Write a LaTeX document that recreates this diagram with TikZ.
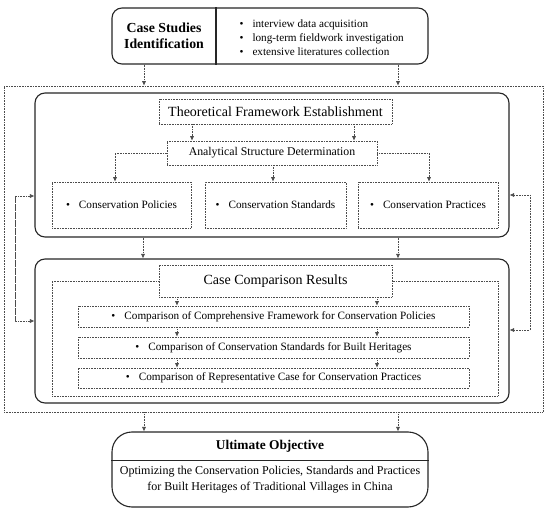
\documentclass[tikz,border=0pt]{standalone}
\usepackage{fontspec}
\setmainfont{Liberation Serif}
\usetikzlibrary{arrows.meta,calc}
\begin{document}
\begin{tikzpicture}[x=1pt,y=-1pt,
  dot/.style={draw=black!70, densely dotted, line width=0.6pt},
  dbox/.style={dot, fill=white, rectangle, inner sep=0pt},
  rbox/.style={draw=black!85, line width=1.1pt, rounded corners=10pt, inner sep=0pt, fill=white},
  arr/.style={dot, -{Latex[length=4.5pt,width=4pt]}},
  fbig/.style={font=\fontsize{14}{16}\selectfont},
  fsmall/.style={font=\fontsize{11.2}{14}\selectfont},
]
\useasboundingbox (0,0) rectangle (550,511);

% top box
\node[rbox, minimum width=316pt, minimum height=56pt] (top) at (270,36) {};
\coordinate (dv) at (216,0);
\draw[draw=black!85, line width=1.1pt] (top.north -| dv) -- (top.south -| dv);
\node[font=\bfseries\fontsize{13.8}{16}\selectfont, align=center] (csi) at (164,36) {Case Studies\\Identification};
\node[fsmall, anchor=west, align=left] (list) at (236,37.5)
  {\makebox[13pt][l]{\textbullet}interview data acquisition\\
   \makebox[13pt][l]{\textbullet}long-term fieldwork investigation\\
   \makebox[13pt][l]{\textbullet}extensive literatures collection};

% outer dotted box
\node[dot, rectangle, inner sep=0pt, minimum width=539pt, minimum height=326pt] (outer) at (273.5,249) {};

\coordinate (xL) at (144,0);
\coordinate (xR) at (398,0);
\draw[arr] (top.south -| xL) -- (outer.north -| xL);
\draw[arr] (top.south -| xR) -- (outer.north -| xR);

% box 1
\node[rbox, minimum width=474pt, minimum height=144pt] (box1) at (272,165) {};
\node[dbox, fbig, minimum width=233pt, minimum height=25pt] (tfe) at (275.5,111.5) {Theoretical Framework Establishment};
\node[dbox, font=\fontsize{11.8}{13}\selectfont, minimum width=210pt, minimum height=24pt] (asd) at (272,153) {Analytical Structure Determination};
\node[dbox, fsmall, minimum width=139pt, minimum height=46pt] (pol) at (121.5,205) {\makebox[13pt][l]{\textbullet}Conservation Policies};
\node[dbox, fsmall, minimum width=141pt, minimum height=46pt] (std) at (275.5,205) {\makebox[13pt][l]{\textbullet}Conservation Standards};
\node[dbox, fsmall, minimum width=140pt, minimum height=46pt] (pra) at (428,205) {\makebox[13pt][l]{\textbullet}Conservation Practices};

\coordinate (t1) at (192,0);
\coordinate (t2) at (354,0);
\draw[arr] (tfe.south -| t1) -- (asd.north -| t1);
\draw[arr] (tfe.south -| t2) -- (asd.north -| t2);
\coordinate (p1) at (115,0);
\coordinate (p2) at (429,0);
\coordinate (p3) at (273,0);
\draw[arr] (asd.west) -| (pol.north -| p1);
\draw[arr] (asd.east) -| (pra.north -| p2);
\draw[arr] (asd.south -| p3) -- (std.north -| p3);

% box 2
\node[rbox, minimum width=474pt, minimum height=144pt] (box2) at (272,331) {};
\coordinate (m1) at (143,0);
\draw[arr] (box1.south -| m1) -- (box2.north -| m1);
\draw[arr] (box1.south -| xR) -- (box2.north -| xR);

\node[dbox, minimum width=446pt, minimum height=115pt] (inner) at (275,338.5) {};
\node[dbox, fbig, minimum width=233pt, minimum height=32pt] (ccr) at (275.5,281) {Case Comparison Results};
\node[dbox, fsmall, minimum width=391pt, minimum height=21pt] (r1) at (273.5,316.5) {\makebox[13pt][l]{\textbullet}Comparison of Comprehensive Framework for Conservation Policies};
\node[dbox, fsmall, minimum width=391pt, minimum height=21pt] (r2) at (273.5,347.5) {\makebox[13pt][l]{\textbullet}Comparison of Conservation Standards for Built Heritages};
\node[dbox, fsmall, minimum width=391pt, minimum height=20pt] (r3) at (273.5,378) {\makebox[13pt][l]{\textbullet}Comparison of Representative Case for Conservation Practices};

\coordinate (c1) at (177,0);
\coordinate (c2) at (377,0);
\draw[arr] (ccr.south -| c1) -- (r1.north -| c1);
\draw[arr] (ccr.south -| c2) -- (r1.north -| c2);
\draw[arr] (r1.south -| c1) -- (r2.north -| c1);
\draw[arr] (r1.south -| c2) -- (r2.north -| c2);
\draw[arr] (r2.south -| c1) -- (r3.north -| c1);
\draw[arr] (r2.south -| c2) -- (r3.north -| c2);

% feedback loops
\coordinate (L1) at (15,196);
\coordinate (L2) at (15,321);
\draw[arr] (L2) -- (L1) -- (L1 -| box1.west);
\draw[arr] (L1) -- (L2) -- (L2 -| box2.west);
\coordinate (R1) at (530,195);
\coordinate (R2) at (530,330);
\draw[arr] (R2) -- (R1) -- (R1 -| box1.east);
\draw[arr] (R1) -- (R2) -- (R2 -| box2.east);

% ultimate objective
\node[rbox, rounded corners=20pt, minimum width=316pt, minimum height=75pt] (ult) at (270,469.5) {};
\draw[arr] (outer.south -| xL) -- (ult.north -| xL);
\draw[arr] (outer.south -| xR) -- (ult.north -| xR);
\coordinate (hd) at (0,460);
\draw[draw=black!85, line width=0.9pt] (ult.west |- hd) -- (ult.east |- hd);
\node[font=\bfseries\fontsize{13.4}{14}\selectfont] (uot) at (270,446) {Ultimate Objective};
\node[font=\fontsize{12}{16}\selectfont, align=center] (uob) at (270,480) {Optimizing the Conservation Policies, Standards and Practices\\for Built Heritages of Traditional Villages in China};
\end{tikzpicture}
\end{document}
